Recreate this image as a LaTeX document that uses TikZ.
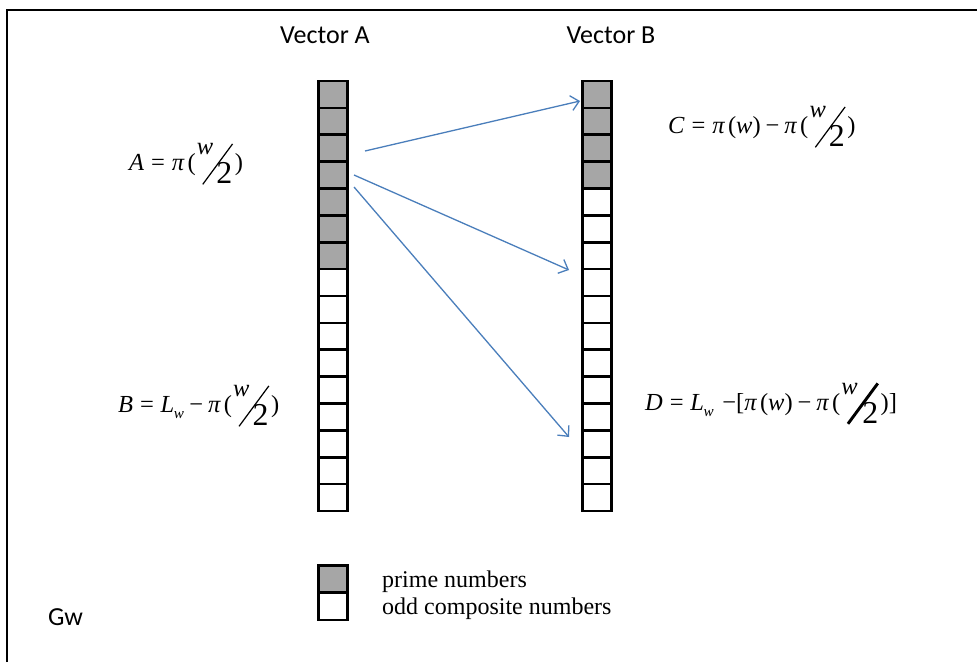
\documentclass[tikz,border=0pt]{standalone}
\usepackage{fontspec}
\usepackage{graphicx}
\setmainfont{Liberation Serif}
\newfontfamily\calfont{Carlito}
\usetikzlibrary{arrows.meta}
\definecolor{cellgray}{RGB}{166,166,166}
\definecolor{arrowblue}{RGB}{74,126,187}
% diagonal fraction w/2
\newcommand\hwx[1]{\kern0.05em\raisebox{0.62em}{\itshape w}\kern-0.45em\raisebox{-0.6em}{\rotatebox{53.6}{\rule{2.05em}{#1}}}\kern-0.68em\raisebox{-0.57em}{\scalebox{1.3}{2}}\kern0.1em}
\newcommand\hw{\hwx{0.05em}}
\newcommand\hwb{\hwx{0.12em}}
\newcommand\Lw{\textit{L}\kern-0.02em\raisebox{-0.28em}{\scalebox{0.62}{\itshape w}}}
\newcommand\pii{\textit{π}\kern0.12em}
\tikzset{
  cellbox/.style={draw=black, line width=2.6pt, minimum width=29pt, minimum height=26.875pt, inner sep=0pt, outer sep=0pt},
  prime/.style={cellbox, fill=cellgray},
  comp/.style={cellbox, fill=white},
  vlabel/.style={font=\calfont\fontsize{26}{30}\selectfont, inner sep=0pt},
  eq/.style={font=\fontsize{24.5}{28}\selectfont, inner sep=0pt, anchor=base west},
  legtext/.style={font=\fontsize{24}{28}\selectfont, inner sep=0pt, anchor=base west},
  conn/.style={draw=arrowblue, line width=1.3pt, -{Straight Barb[length=8pt,width=15pt,line width=1.3pt]}}
}
\begin{document}
\begin{tikzpicture}[x=1pt,y=-1pt]
\useasboundingbox (0,0) rectangle (977,662);
\fill[white] (0,0) rectangle (977,662);
\draw[line width=1.3pt] (7,662) -- (7,10) -- (977,10);

\node[vlabel, anchor=base] (va) at (325,43) {Vector A};
\node[vlabel, anchor=base] (vb) at (611,43) {Vector B};

% Vector A column
\foreach \i in {1,...,16}{
  \pgfmathsetmacro\yy{81+26.875*(\i-0.5)}
  \ifnum\i<8
    \node[prime] (a\i) at (333,\yy) {};
  \else
    \node[comp] (a\i) at (333,\yy) {};
  \fi
}
% Vector B column
\foreach \i in {1,...,16}{
  \pgfmathsetmacro\yy{81+26.875*(\i-0.5)}
  \ifnum\i<5
    \node[prime] (b\i) at (597,\yy) {};
  \else
    \node[comp] (b\i) at (597,\yy) {};
  \fi
}

% labels
\node[eq] (la) at (129,170) {\textit{A}\kern0.28em=\kern0.28em\pii(\hw)};
\node[eq] (lb) at (118,412) {\textit{B}\kern0.28em=\kern0.28em\Lw\kern0.22em−\kern0.2em\pii(\hw)};
\node[eq] (lc) at (668,133) {\textit{C}\kern0.28em=\kern0.28em\pii(\textit{w})\kern0.2em−\kern0.2em\pii(\hw)};
\node[eq] (ld) at (645,410) {\textit{D}\kern0.28em=\kern0.28em\Lw\kern0.35em−[\pii(\textit{w})\kern0.2em−\kern0.2em\pii(\hwb)]};

% arrows
\coordinate (s1) at (365,151);
\coordinate (s2) at (354,175);
\coordinate (s3) at (354,187);
\coordinate (e1) at (580,101);
\coordinate (e2) at (569,270);
\coordinate (e3) at (569,437);
\draw[conn] (s1) -- (e1);
\draw[conn] (s2) -- (e2);
\draw[conn] (s3) -- (e3);

% legend
\node[prime] (lg1) at (333,579) {};
\node[comp] (lg2) at (333,606.5) {};
\node[legtext] (lt1) at (382,587) {prime numbers};
\node[legtext] (lt2) at (382,614) {odd composite numbers};

\node[vlabel, anchor=base west] (gw) at (48,625) {Gw};
\end{tikzpicture}
\end{document}
